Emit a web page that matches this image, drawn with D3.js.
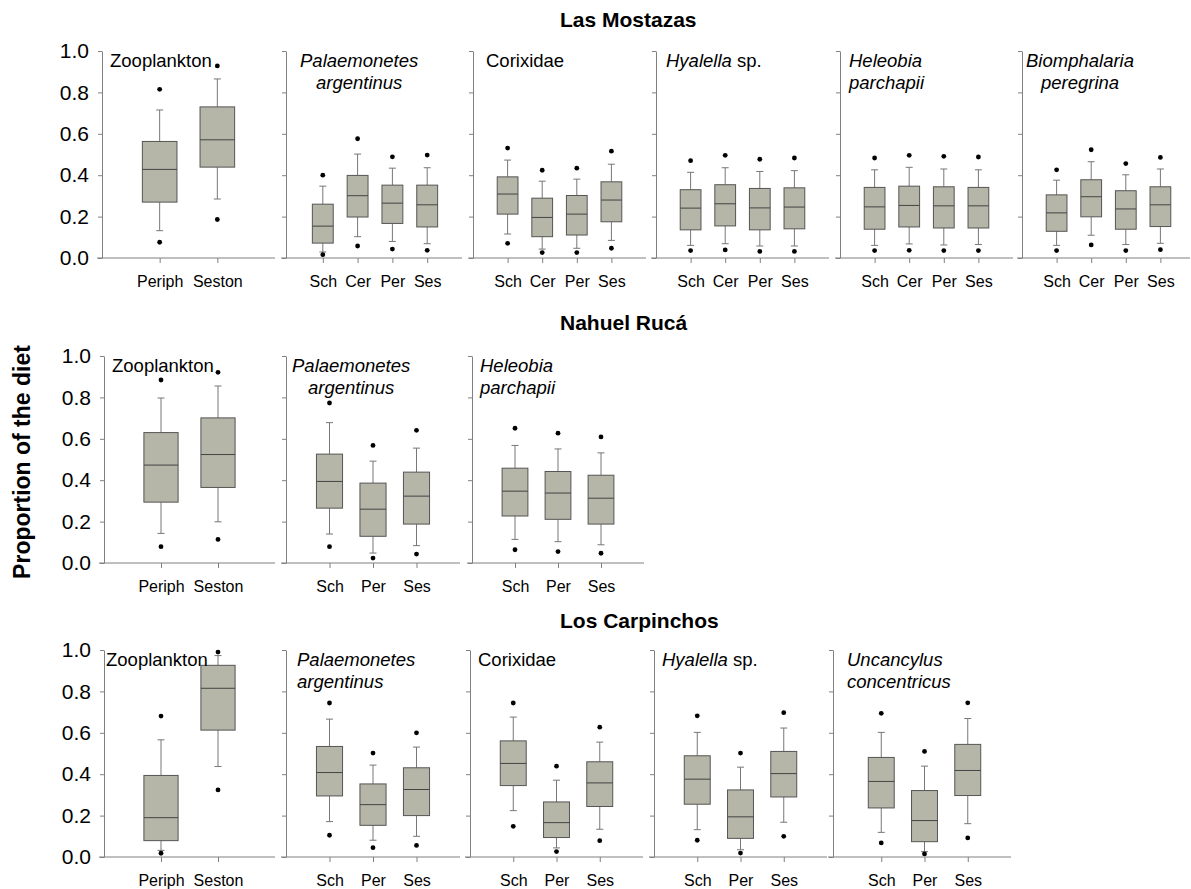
<!DOCTYPE html>
<html>
<head>
<meta charset="utf-8">
<script src="https://cdn.jsdelivr.net/npm/d3@7"></script>
<style>
  body { margin: 0; background: #fff; }
  svg { display: block; font-family: 'Liberation Sans', Arial, sans-serif; }
  .sec-title { font-size: 21px; font-weight: bold; }
  .y-label { font-size: 23px; font-weight: bold; }
  .y-tick text { font-size: 21px; fill: #000; }
  .x-tick text { font-size: 16px; fill: #000; }
  .panel-title { font-size: 18.5px; }
</style>
</head>
<body>
<div id="chart"></div>
<script>
// categories
const CAT2= ['Periph', 'Seston'];
const CAT4= ['Sch', 'Cer', 'Per', 'Ses'];
const CAT3= ['Sch', 'Per', 'Ses'];
const Y_TICKS= [0, 0.2, 0.4, 0.6, 0.8, 1.0];

// each box: [low outlier, low whisker, Q1, median, Q3, high whisker, high outlier]
// Las Mostazas
const LM_ZOO= [
  [0.076, 0.132, 0.270, 0.428, 0.563, 0.715, 0.815],
  [0.186, 0.285, 0.439, 0.571, 0.730, 0.865, 0.928],
];
const LM_PAL= [
  [0.016, 0.029, 0.072, 0.154, 0.260, 0.347, 0.400],
  [0.058, 0.103, 0.198, 0.301, 0.399, 0.502, 0.576],
  [0.043, 0.080, 0.167, 0.265, 0.352, 0.434, 0.489],
  [0.037, 0.069, 0.150, 0.257, 0.352, 0.436, 0.497],
];
const LM_COR= [
  [0.071, 0.116, 0.212, 0.309, 0.392, 0.473, 0.531],
  [0.026, 0.043, 0.103, 0.196, 0.289, 0.371, 0.424],
  [0.026, 0.047, 0.111, 0.212, 0.302, 0.381, 0.434],
  [0.047, 0.085, 0.175, 0.280, 0.368, 0.453, 0.516],
];
const LM_HYA= [
  [0.036, 0.061, 0.136, 0.241, 0.330, 0.414, 0.470],
  [0.039, 0.069, 0.155, 0.262, 0.354, 0.436, 0.496],
  [0.032, 0.058, 0.136, 0.242, 0.336, 0.418, 0.477],
  [0.032, 0.058, 0.141, 0.246, 0.339, 0.422, 0.483],
];
const LM_HEL= [
  [0.036, 0.061, 0.139, 0.247, 0.341, 0.426, 0.483],
  [0.037, 0.068, 0.150, 0.254, 0.347, 0.438, 0.496],
  [0.036, 0.063, 0.145, 0.252, 0.344, 0.430, 0.491],
  [0.036, 0.065, 0.145, 0.252, 0.341, 0.426, 0.488],
];
const LM_BIO= [
  [0.036, 0.061, 0.129, 0.218, 0.305, 0.376, 0.426],
  [0.063, 0.110, 0.199, 0.296, 0.378, 0.465, 0.523],
  [0.036, 0.065, 0.139, 0.237, 0.325, 0.402, 0.456],
  [0.040, 0.071, 0.152, 0.257, 0.344, 0.430, 0.486],
];
// Nahuel Rucá
const NR_ZOO= [
  [0.079, 0.143, 0.294, 0.473, 0.630, 0.797, 0.884],
  [0.114, 0.199, 0.365, 0.524, 0.701, 0.855, 0.921],
];
const NR_PAL= [
  [0.079, 0.140, 0.265, 0.394, 0.526, 0.678, 0.773],
  [0.024, 0.048, 0.129, 0.260, 0.386, 0.492, 0.568],
  [0.043, 0.084, 0.188, 0.323, 0.439, 0.555, 0.641],
];
const NR_HEL= [
  [0.064, 0.114, 0.227, 0.347, 0.458, 0.568, 0.651],
  [0.055, 0.103, 0.211, 0.338, 0.442, 0.551, 0.627],
  [0.047, 0.088, 0.188, 0.313, 0.424, 0.532, 0.609],
];
// Los Carpinchos
const LC_ZOO= [
  [0.018, 0.032, 0.079, 0.190, 0.394, 0.566, 0.681],
  [0.324, 0.437, 0.613, 0.815, 0.926, 0.973, 0.990],
];
const LC_PAL= [
  [0.105, 0.171, 0.295, 0.408, 0.534, 0.666, 0.744],
  [0.045, 0.081, 0.153, 0.253, 0.353, 0.444, 0.502],
  [0.056, 0.100, 0.200, 0.326, 0.431, 0.531, 0.600],
];
const LC_COR= [
  [0.148, 0.224, 0.345, 0.452, 0.561, 0.676, 0.744],
  [0.026, 0.044, 0.094, 0.166, 0.266, 0.371, 0.439],
  [0.079, 0.134, 0.244, 0.358, 0.460, 0.555, 0.627],
];
const LC_HYA= [
  [0.081, 0.132, 0.255, 0.376, 0.489, 0.602, 0.682],
  [0.019, 0.035, 0.090, 0.194, 0.324, 0.434, 0.502],
  [0.100, 0.168, 0.290, 0.403, 0.510, 0.623, 0.697],
];
const LC_UNC= [
  [0.068, 0.119, 0.237, 0.365, 0.481, 0.602, 0.694],
  [0.015, 0.026, 0.074, 0.176, 0.321, 0.439, 0.510],
  [0.092, 0.161, 0.297, 0.418, 0.544, 0.669, 0.745],
];

// panel titles: each line is a list of [text, italic]
const T_ZOO= [[['Zooplankton', false]]];
const T_PAL= [[['Palaemonetes', true]], [['argentinus', true]]];
const T_COR= [[['Corixidae', false]]];
const T_HYA= [[['Hyalella', true], [' sp.', false]]];
const T_HEL= [[['Heleobia', true]], [['parchapii', true]]];
const T_BIO= [[['Biomphalaria', true]], [['peregrina', true]]];
const T_UNC= [[['Uncancylus', true]], [['concentricus', true]]];

const ROWS= [
  { name: 'Las Mostazas', panels: [
    { cats: CAT2, data: LM_ZOO, title: T_ZOO },
    { cats: CAT4, data: LM_PAL, title: T_PAL },
    { cats: CAT4, data: LM_COR, title: T_COR },
    { cats: CAT4, data: LM_HYA, title: T_HYA },
    { cats: CAT4, data: LM_HEL, title: T_HEL },
    { cats: CAT4, data: LM_BIO, title: T_BIO },
  ] },
  { name: 'Nahuel Rucá', panels: [
    { cats: CAT2, data: NR_ZOO, title: T_ZOO },
    { cats: CAT3, data: NR_PAL, title: T_PAL },
    { cats: CAT3, data: NR_HEL, title: T_HEL },
  ] },
  { name: 'Los Carpinchos', panels: [
    { cats: CAT2, data: LC_ZOO, title: T_ZOO },
    { cats: CAT3, data: LC_PAL, title: T_PAL },
    { cats: CAT3, data: LC_COR, title: T_COR },
    { cats: CAT3, data: LC_HYA, title: T_HYA },
    { cats: CAT3, data: LC_UNC, title: T_UNC },
  ] },
];

// layout (pixels): panel = [axis x, right end, scale start offset, title dx, title align]
const W= 1191, H= 889;
const ROW_LAYOUT= [
  { top: 51, bottom: 258, titleY: 27,
    panels: [[102, 275, 0, 8, 'start'], [286, 462, 2, 14, 'center'], [473, 646, 0, 13, 'start'],
             [656, 829, 0, 10, 'start'], [840, 1013, 0, 9, 'start'], [1022, 1195, 0, 4, 'center']] },
  { top: 356, bottom: 563, titleY: 330,
    panels: [[104, 275, 0, 8, 'start'], [286, 460, 0, 6, 'center'], [472, 644, 0, 8, 'start']] },
  { top: 650, bottom: 857, titleY: 628,
    panels: [[104, 275, 0, 2, 'start'], [286, 460, 0, 11, 'start'], [470, 643, 0, 8, 'start'],
             [654, 827, 0, 8, 'start'], [833, 1011, 5, 14, 'start']] },
];
const BOX_FILL= '#b5b5a8';
const BOX_STROKE= '#555';
const WHISK= '#777';
const AXIS= '#808080';

const svg= d3.select('#chart').append('svg')
  .attr('width', W).attr('height', H);

svg.append('text')
  .attr('class', 'y-label')
  .attr('transform', `translate(30,462) rotate(-90)`)
  .attr('text-anchor', 'middle')
  .text('Proportion of the diet');

ROWS.forEach((row, ri) => {
  const L= ROW_LAYOUT[ri];
  svg.append('text')
    .attr('class', 'sec-title')
    .attr('x', 560).attr('y', L.titleY)
    .text(row.name);

  const y= d3.scaleLinear().domain([0, 1]).range([L.bottom, L.top]);

  row.panels.forEach((p, pi) => {
    const [x0, x1, off, tdx, talign]= L.panels[pi];
    const g= svg.append('g').attr('transform', `translate(${x0},0)`);
    const x= d3.scalePoint().domain(p.cats).range([off, x1-x0]).padding(1);
    const bw= x.step()*0.6;
    const cap= 7;

    // y axis
    g.append('g')
      .attr('class', 'y-tick')
      .call(d3.axisLeft(y).tickValues(Y_TICKS).tickSize(4).tickSizeOuter(0).tickPadding(9)
        .tickFormat(pi === 0 ? d3.format('.1f') : ''))
      .call(a => a.selectAll('line, path').attr('stroke', AXIS));

    // x axis
    g.append('g')
      .attr('class', 'x-tick')
      .attr('transform', `translate(0,${L.bottom})`)
      .call(d3.axisBottom(x).tickSize(5).tickPadding(13))
      .call(a => a.select('.domain').remove())
      .call(a => a.selectAll('line').attr('stroke', AXIS));
    g.append('line')
      .attr('x1', -5).attr('x2', Math.min(x1, W-1)-x0)
      .attr('y1', L.bottom).attr('y2', L.bottom)
      .attr('stroke', AXIS);

    // boxes
    const bx= g.selectAll(null).data(p.data).join('g')
      .attr('transform', (d, i) => `translate(${x(p.cats[i])},0)`);
    bx.append('line')
      .attr('x1', 0).attr('x2', 0)
      .attr('y1', d => y(d[1])).attr('y2', d => y(d[2]))
      .attr('stroke', WHISK);
    bx.append('line')
      .attr('x1', 0).attr('x2', 0)
      .attr('y1', d => y(d[4])).attr('y2', d => y(d[5]))
      .attr('stroke', WHISK);
    [1, 5].forEach(k => {
      bx.append('line')
        .attr('x1', -cap/2).attr('x2', cap/2)
        .attr('y1', d => y(d[k])).attr('y2', d => y(d[k]))
        .attr('stroke', WHISK);
    });
    bx.append('rect')
      .attr('x', -bw/2).attr('width', bw)
      .attr('y', d => y(d[4])).attr('height', d => y(d[2])-y(d[4]))
      .attr('fill', BOX_FILL).attr('stroke', BOX_STROKE).attr('stroke-width', 1);
    bx.append('line')
      .attr('x1', -bw/2).attr('x2', bw/2)
      .attr('y1', d => y(d[3])).attr('y2', d => y(d[3]))
      .attr('stroke', '#444');
    [0, 6].forEach(k => {
      bx.append('circle')
        .attr('cx', 0).attr('cy', d => y(d[k]))
        .attr('r', 2.4).attr('fill', '#000');
    });

    // title
    const tl= g.append('g').attr('class', 'panel-title');
    const texts= p.title.map((line, li) => {
      const t= tl.append('text').attr('x', tdx).attr('y', L.top+16+li*22);
      line.forEach(([s, it]) => {
        t.append('tspan').attr('font-style', it ? 'italic' : 'normal').text(s);
      });
      return t;
    });
    if (talign === 'center' && texts.length > 1) {
      const w0= texts[0].node().getComputedTextLength();
      const cx= tdx+w0/2;
      texts.slice(1).forEach(t => t.attr('x', cx).attr('text-anchor', 'middle'));
    }
  });
});
</script>
</body>
</html>
